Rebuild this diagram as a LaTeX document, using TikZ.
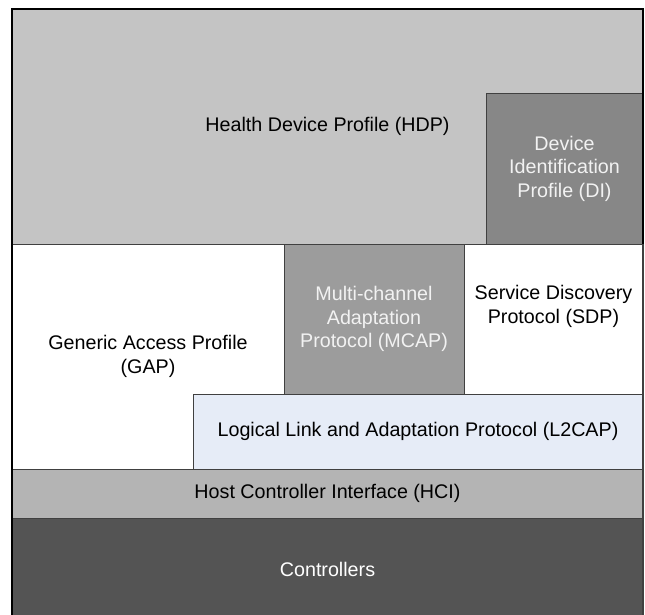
\documentclass[tikz,border=0pt]{standalone}
\usepackage{fontspec}
\setmainfont{Liberation Sans}
\usepackage{tikz}
\usetikzlibrary{positioning}

\definecolor{hdpgray}{HTML}{C4C4C4}
\definecolor{digray}{HTML}{878787}
\definecolor{mcapgray}{HTML}{9C9C9C}
\definecolor{l2capblue}{HTML}{E6ECF7}
\definecolor{hcigray}{HTML}{B4B4B4}
\definecolor{ctrlgray}{HTML}{545454}

\begin{document}
\begin{tikzpicture}[
    x=1pt, y=-1pt,
    box/.style={rectangle, draw=black!75, line width=0.8pt, anchor=north west, align=center, inner sep=0pt, outer sep=0pt, font=\fontsize{19.7}{23.5}\selectfont},
    lightbox/.style={box, fill=hdpgray},
    darkbox/.style={box, fill=digray, text=white!95!black},
    whitebox/.style={box, fill=white},
    bluebox/.style={box, fill=l2capblue}
]
    \useasboundingbox (0,0) rectangle (645,615);

    % Nodes
    \node[lightbox, minimum width=631, minimum height=235] (hdp) at (12,9) {Health Device Profile (HDP)};
    \node[darkbox, minimum width=157, minimum height=151] (di) at (486,93) {Device\\Identification\\Profile (DI)};
    \node[whitebox, minimum width=272, minimum height=225] (gap) at (12,244) {Generic Access Profile\\(GAP)};
    \node[darkbox, fill=mcapgray, minimum width=180, minimum height=150] (mcap) at (284,244) {Multi-channel\\Adaptation\\Protocol (MCAP)};
    \node[whitebox, minimum width=179, minimum height=150] (sdp) at (464,244) {Service Discovery\\Protocol (SDP)\\[6pt]};
    \node[bluebox, minimum width=450, minimum height=75] (l2cap) at (193,394) {Logical Link and Adaptation Protocol (L2CAP)};
    \node[lightbox, fill=hcigray, minimum width=631, minimum height=49] (hci) at (12,469) {Host Controller Interface (HCI)};
    \node[darkbox, fill=ctrlgray, text=white, minimum width=631, minimum height=102] (ctrl) at (12,518) {Controllers};

    % Frame
    \draw[black, line width=1.6pt] (hdp.south west) |- (hdp.north east) -- (hdp.south east);
    \draw[black, line width=1.6pt] (hdp.south west) -- (ctrl.south west);
    \draw[black!75, line width=1.2pt] (hdp.south east) -- (ctrl.south east);

\end{tikzpicture}
\end{document}
